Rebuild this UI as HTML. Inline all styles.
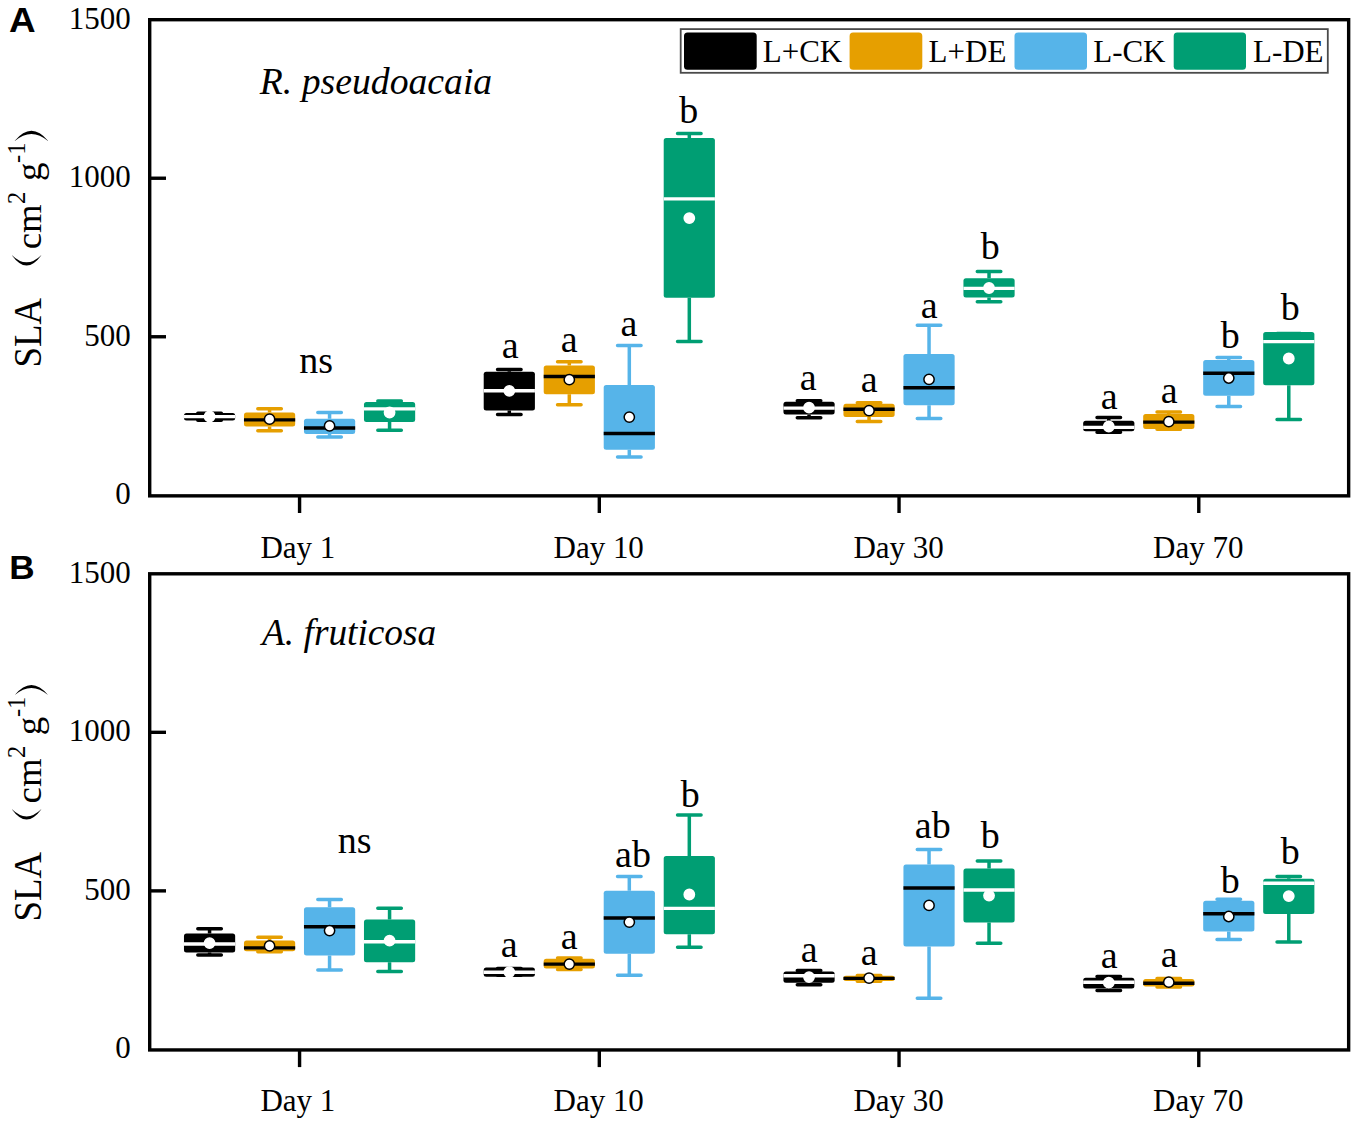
<!DOCTYPE html>
<html><head><meta charset="utf-8"><style>
html,body{margin:0;padding:0;background:#fff;}
svg{display:block;}
text{font-family:"Liberation Serif",serif;fill:#000;}
.tk{font-size:31px;}
.sig{font-size:38px;}
.ti{font-size:37.7px;font-style:italic;}
.yt{font-size:36.8px;}
.ys{font-size:24.5px;}
.pl{font-family:"Liberation Sans",sans-serif;font-weight:bold;font-size:34.5px;}
</style></head><body>
<svg width="1358" height="1125" viewBox="0 0 1358 1125">
<rect width="1358" height="1125" fill="#fff"/>
<text transform="translate(8.93 32) scale(1.07 1.04)" class="pl">A</text>
<text transform="translate(9.3 579.3) scale(1.02 0.98)" class="pl">B</text>
<path d="M209.57 413.2V413M209.57 420.4V420.2" stroke="#000000" stroke-width="3.5"/><path d="M197.82 413.2H221.32M197.82 420.2H221.32" stroke="#000000" stroke-width="3.5" stroke-linecap="round"/><rect x="183.97" y="413" width="51.2" height="7.4" rx="2.5" fill="#000000"/><path d="M183.97 416.6H235.17" stroke="#ffffff" stroke-width="3.4"/><circle cx="209.57" cy="416.5" r="5.15" fill="#fff" stroke="#ffffff" stroke-width="1.5"/>
<path d="M269.57 408.7V412.5M269.57 426.4V430.7" stroke="#E69F00" stroke-width="3.5"/><path d="M257.82 408.7H281.32M257.82 430.7H281.32" stroke="#E69F00" stroke-width="3.5" stroke-linecap="round"/><rect x="243.97" y="412.5" width="51.2" height="13.9" rx="2.5" fill="#E69F00"/><path d="M243.97 419.9H295.17" stroke="#000000" stroke-width="3.4"/><circle cx="269.57" cy="419.2" r="5.15" fill="#fff" stroke="#000000" stroke-width="1.5"/>
<path d="M329.57 412.6V418.7M329.57 434V436.9" stroke="#56B4E9" stroke-width="3.5"/><path d="M317.82 412.6H341.32M317.82 436.9H341.32" stroke="#56B4E9" stroke-width="3.5" stroke-linecap="round"/><rect x="303.97" y="418.7" width="51.2" height="15.3" rx="2.5" fill="#56B4E9"/><path d="M303.97 428H355.17" stroke="#000000" stroke-width="3.4"/><circle cx="329.57" cy="425.9" r="5.15" fill="#fff" stroke="#000000" stroke-width="1.5"/>
<path d="M389.57 401V402M389.57 422.1V430.2" stroke="#009E73" stroke-width="3.5"/><path d="M377.82 401H401.32M377.82 430.2H401.32" stroke="#009E73" stroke-width="3.5" stroke-linecap="round"/><rect x="363.97" y="402" width="51.2" height="20.1" rx="2.5" fill="#009E73"/><path d="M363.97 408.9H415.17" stroke="#ffffff" stroke-width="3.4"/><circle cx="389.57" cy="412.5" r="5.15" fill="#fff" stroke="#ffffff" stroke-width="1.5"/>
<path d="M509.31 369.4V371.7M509.31 410.4V414.4" stroke="#000000" stroke-width="3.5"/><path d="M497.56 369.4H521.06M497.56 414.4H521.06" stroke="#000000" stroke-width="3.5" stroke-linecap="round"/><rect x="483.71" y="371.7" width="51.2" height="38.7" rx="2.5" fill="#000000"/><path d="M483.71 390.8H534.91" stroke="#ffffff" stroke-width="3.4"/><circle cx="509.31" cy="390.8" r="5.15" fill="#fff" stroke="#ffffff" stroke-width="1.5"/>
<path d="M569.31 361.7V365.6M569.31 394.3V404.8" stroke="#E69F00" stroke-width="3.5"/><path d="M557.56 361.7H581.06M557.56 404.8H581.06" stroke="#E69F00" stroke-width="3.5" stroke-linecap="round"/><rect x="543.71" y="365.6" width="51.2" height="28.7" rx="2.5" fill="#E69F00"/><path d="M543.71 376.5H594.91" stroke="#000000" stroke-width="3.4"/><circle cx="569.31" cy="379.7" r="5.15" fill="#fff" stroke="#000000" stroke-width="1.5"/>
<path d="M629.31 345.5V385.1M629.31 449.8V456.9" stroke="#56B4E9" stroke-width="3.5"/><path d="M617.56 345.5H641.06M617.56 456.9H641.06" stroke="#56B4E9" stroke-width="3.5" stroke-linecap="round"/><rect x="603.71" y="385.1" width="51.2" height="64.7" rx="2.5" fill="#56B4E9"/><path d="M603.71 433.5H654.91" stroke="#000000" stroke-width="3.4"/><circle cx="629.31" cy="417.1" r="5.15" fill="#fff" stroke="#000000" stroke-width="1.5"/>
<path d="M689.31 133.5V138M689.31 297.7V341.5" stroke="#009E73" stroke-width="3.5"/><path d="M677.56 133.5H701.06M677.56 341.5H701.06" stroke="#009E73" stroke-width="3.5" stroke-linecap="round"/><rect x="663.71" y="138" width="51.2" height="159.7" rx="2.5" fill="#009E73"/><path d="M663.71 198.9H714.91" stroke="#ffffff" stroke-width="3.4"/><circle cx="689.31" cy="218.1" r="5.15" fill="#fff" stroke="#ffffff" stroke-width="1.5"/>
<path d="M809.04 400.8V401.8M809.04 414.5V417.8" stroke="#000000" stroke-width="3.5"/><path d="M797.29 400.8H820.79M797.29 417.8H820.79" stroke="#000000" stroke-width="3.5" stroke-linecap="round"/><rect x="783.44" y="401.8" width="51.2" height="12.7" rx="2.5" fill="#000000"/><path d="M783.44 408.1H834.64" stroke="#ffffff" stroke-width="3.4"/><circle cx="809.04" cy="407.7" r="5.15" fill="#fff" stroke="#ffffff" stroke-width="1.5"/>
<path d="M869.04 402.8V403.8M869.04 417.1V421.4" stroke="#E69F00" stroke-width="3.5"/><path d="M857.29 402.8H880.79M857.29 421.4H880.79" stroke="#E69F00" stroke-width="3.5" stroke-linecap="round"/><rect x="843.44" y="403.8" width="51.2" height="13.3" rx="2.5" fill="#E69F00"/><path d="M843.44 409.2H894.64" stroke="#000000" stroke-width="3.4"/><circle cx="869.04" cy="410.6" r="5.15" fill="#fff" stroke="#000000" stroke-width="1.5"/>
<path d="M929.04 325.2V353.9M929.04 405.3V418.4" stroke="#56B4E9" stroke-width="3.5"/><path d="M917.29 325.2H940.79M917.29 418.4H940.79" stroke="#56B4E9" stroke-width="3.5" stroke-linecap="round"/><rect x="903.44" y="353.9" width="51.2" height="51.4" rx="2.5" fill="#56B4E9"/><path d="M903.44 387.7H954.64" stroke="#000000" stroke-width="3.4"/><circle cx="929.04" cy="379.3" r="5.15" fill="#fff" stroke="#000000" stroke-width="1.5"/>
<path d="M989.04 271.4V278.3M989.04 297.6V301.7" stroke="#009E73" stroke-width="3.5"/><path d="M977.29 271.4H1000.79M977.29 301.7H1000.79" stroke="#009E73" stroke-width="3.5" stroke-linecap="round"/><rect x="963.44" y="278.3" width="51.2" height="19.3" rx="2.5" fill="#009E73"/><path d="M963.44 288.4H1014.64" stroke="#ffffff" stroke-width="3.4"/><circle cx="989.04" cy="288" r="5.15" fill="#fff" stroke="#ffffff" stroke-width="1.5"/>
<path d="M1108.78 417.5V420.7M1108.78 431.3V432.2" stroke="#000000" stroke-width="3.5"/><path d="M1097.03 417.5H1120.53M1097.03 432.2H1120.53" stroke="#000000" stroke-width="3.5" stroke-linecap="round"/><rect x="1083.18" y="420.7" width="51.2" height="10.6" rx="2.5" fill="#000000"/><path d="M1083.18 427.4H1134.38" stroke="#ffffff" stroke-width="3.4"/><circle cx="1108.78" cy="426.5" r="5.15" fill="#fff" stroke="#ffffff" stroke-width="1.5"/>
<path d="M1168.78 412.1V414M1168.78 429V429.3" stroke="#E69F00" stroke-width="3.5"/><path d="M1157.03 412.1H1180.53M1157.03 429.3H1180.53" stroke="#E69F00" stroke-width="3.5" stroke-linecap="round"/><rect x="1143.18" y="414" width="51.2" height="15" rx="2.5" fill="#E69F00"/><path d="M1143.18 422.1H1194.38" stroke="#000000" stroke-width="3.4"/><circle cx="1168.78" cy="421.7" r="5.15" fill="#fff" stroke="#000000" stroke-width="1.5"/>
<path d="M1228.78 357.5V360M1228.78 395.8V406.4" stroke="#56B4E9" stroke-width="3.5"/><path d="M1217.03 357.5H1240.53M1217.03 406.4H1240.53" stroke="#56B4E9" stroke-width="3.5" stroke-linecap="round"/><rect x="1203.18" y="360" width="51.2" height="35.8" rx="2.5" fill="#56B4E9"/><path d="M1203.18 373.2H1254.38" stroke="#000000" stroke-width="3.4"/><circle cx="1228.78" cy="378" r="5.15" fill="#fff" stroke="#000000" stroke-width="1.5"/>
<path d="M1288.78 333.6V332.1M1288.78 385.3V419.4" stroke="#009E73" stroke-width="3.5"/><path d="M1277.03 333.6H1300.53M1277.03 419.4H1300.53" stroke="#009E73" stroke-width="3.5" stroke-linecap="round"/><rect x="1263.18" y="332.1" width="51.2" height="53.2" rx="2.5" fill="#009E73"/><path d="M1263.18 341.6H1314.38" stroke="#ffffff" stroke-width="3.4"/><circle cx="1288.78" cy="358.5" r="5.15" fill="#fff" stroke="#ffffff" stroke-width="1.5"/>
<rect x="149.7" y="19.7" width="1198.95" height="476.15" fill="none" stroke="#000" stroke-width="3.4"/>
<path d="M149.7 336.76H166" stroke="#000" stroke-width="3.4"/>
<path d="M149.7 178.23H166" stroke="#000" stroke-width="3.4"/>
<text transform="translate(115.25 504.3) scale(1 1.03)" class="tk">0</text>
<text transform="translate(84.25 345.76) scale(1 1.03)" class="tk">500</text>
<text transform="translate(68.75 187.23) scale(1 1.03)" class="tk">1000</text>
<text transform="translate(68.75 28.69) scale(1 1.03)" class="tk">1500</text>
<path d="M299.57 495.85V513" stroke="#000" stroke-width="3.4"/>
<text transform="translate(260.45 557.5) scale(1 1.05)" class="tk">Day 1</text>
<path d="M599.31 495.85V513" stroke="#000" stroke-width="3.4"/>
<text transform="translate(553.52 557.5) scale(1 1.05)" class="tk">Day 10</text>
<path d="M899.04 495.85V513" stroke="#000" stroke-width="3.4"/>
<text transform="translate(853.38 557.5) scale(1 1.05)" class="tk">Day 30</text>
<path d="M1198.78 495.85V513" stroke="#000" stroke-width="3.4"/>
<text transform="translate(1153.08 557.5) scale(1 1.05)" class="tk">Day 70</text>
<text x="259.85" y="94" class="ti">R. pseudoacaia</text>
<text x="299.23" y="372.9" class="sig">ns</text>
<text x="501.85" y="357.7" class="sig">a</text>
<text x="560.75" y="351.6" class="sig">a</text>
<text x="620.45" y="336.3" class="sig">a</text>
<text x="679.15" y="123.1" class="sig">b</text>
<text x="799.85" y="390.1" class="sig">a</text>
<text x="860.75" y="391.7" class="sig">a</text>
<text x="920.75" y="317.8" class="sig">a</text>
<text x="980.75" y="259.1" class="sig">b</text>
<text x="1100.75" y="409.2" class="sig">a</text>
<text x="1160.75" y="402.5" class="sig">a</text>
<text x="1220.75" y="348" class="sig">b</text>
<text x="1280.75" y="320.2" class="sig">b</text>
<text transform="translate(40.8 367.4) rotate(-90) scale(1 1.06)" class="yt">SLA</text><text transform="translate(40.8 249.3) rotate(-90)" class="yt">cm</text><text transform="translate(25 204) rotate(-90)" class="ys">2</text><text transform="translate(40.8 181.1) rotate(-90)" class="yt">g</text><text transform="translate(25 163) rotate(-90)" class="ys">-1</text><path d="M12 255.4Q26.6 275.4 41.2 255.4L41.2 255.2Q26.6 269.4 12 255.2Z" fill="#000"/><path d="M14.8 140.8Q31.4 120.8 48 140.8L48 141Q31.4 126.8 14.8 141Z" fill="#000"/>
<path d="M209.57 928.7V933.5M209.57 952.6V954.9" stroke="#000000" stroke-width="3.5"/><path d="M197.82 928.7H221.32M197.82 954.9H221.32" stroke="#000000" stroke-width="3.5" stroke-linecap="round"/><rect x="183.97" y="933.5" width="51.2" height="19.1" rx="2.5" fill="#000000"/><path d="M183.97 944H235.17" stroke="#ffffff" stroke-width="3.4"/><circle cx="209.57" cy="943.1" r="5.15" fill="#fff" stroke="#ffffff" stroke-width="1.5"/>
<path d="M269.57 937.3V940.6M269.57 951.3V951.8" stroke="#E69F00" stroke-width="3.5"/><path d="M257.82 937.3H281.32M257.82 951.8H281.32" stroke="#E69F00" stroke-width="3.5" stroke-linecap="round"/><rect x="243.97" y="940.6" width="51.2" height="10.7" rx="2.5" fill="#E69F00"/><path d="M243.97 947.9H295.17" stroke="#000000" stroke-width="3.4"/><circle cx="269.57" cy="945.9" r="5.15" fill="#fff" stroke="#000000" stroke-width="1.5"/>
<path d="M329.57 899.6V907.3M329.57 955.5V969.9" stroke="#56B4E9" stroke-width="3.5"/><path d="M317.82 899.6H341.32M317.82 969.9H341.32" stroke="#56B4E9" stroke-width="3.5" stroke-linecap="round"/><rect x="303.97" y="907.3" width="51.2" height="48.2" rx="2.5" fill="#56B4E9"/><path d="M303.97 926.8H355.17" stroke="#000000" stroke-width="3.4"/><circle cx="329.57" cy="930.6" r="5.15" fill="#fff" stroke="#000000" stroke-width="1.5"/>
<path d="M389.57 908.2V919.5M389.57 962.2V971.4" stroke="#009E73" stroke-width="3.5"/><path d="M377.82 908.2H401.32M377.82 971.4H401.32" stroke="#009E73" stroke-width="3.5" stroke-linecap="round"/><rect x="363.97" y="919.5" width="51.2" height="42.7" rx="2.5" fill="#009E73"/><path d="M363.97 941.7H415.17" stroke="#ffffff" stroke-width="3.4"/><circle cx="389.57" cy="940.6" r="5.15" fill="#fff" stroke="#ffffff" stroke-width="1.5"/>
<path d="M509.31 968.4V967.6M509.31 976.7V975.3" stroke="#000000" stroke-width="3.5"/><path d="M497.56 968.4H521.06M497.56 975.3H521.06" stroke="#000000" stroke-width="3.5" stroke-linecap="round"/><rect x="483.71" y="967.6" width="51.2" height="9.1" rx="2.5" fill="#000000"/><path d="M483.71 972.2H534.91" stroke="#ffffff" stroke-width="3.4"/><circle cx="509.31" cy="972.1" r="5.15" fill="#fff" stroke="#ffffff" stroke-width="1.5"/>
<path d="M569.31 958V958.7M569.31 968.4V969.4" stroke="#E69F00" stroke-width="3.5"/><path d="M557.56 958H581.06M557.56 969.4H581.06" stroke="#E69F00" stroke-width="3.5" stroke-linecap="round"/><rect x="543.71" y="958.7" width="51.2" height="9.7" rx="2.5" fill="#E69F00"/><path d="M543.71 964.1H594.91" stroke="#000000" stroke-width="3.4"/><circle cx="569.31" cy="964.1" r="5.15" fill="#fff" stroke="#000000" stroke-width="1.5"/>
<path d="M629.31 876.5V890.8M629.31 953.8V975.3" stroke="#56B4E9" stroke-width="3.5"/><path d="M617.56 876.5H641.06M617.56 975.3H641.06" stroke="#56B4E9" stroke-width="3.5" stroke-linecap="round"/><rect x="603.71" y="890.8" width="51.2" height="63" rx="2.5" fill="#56B4E9"/><path d="M603.71 918H654.91" stroke="#000000" stroke-width="3.4"/><circle cx="629.31" cy="922.1" r="5.15" fill="#fff" stroke="#000000" stroke-width="1.5"/>
<path d="M689.31 815V856M689.31 934.2V947.3" stroke="#009E73" stroke-width="3.5"/><path d="M677.56 815H701.06M677.56 947.3H701.06" stroke="#009E73" stroke-width="3.5" stroke-linecap="round"/><rect x="663.71" y="856" width="51.2" height="78.2" rx="2.5" fill="#009E73"/><path d="M663.71 908.4H714.91" stroke="#ffffff" stroke-width="3.4"/><circle cx="689.31" cy="894.5" r="5.15" fill="#fff" stroke="#ffffff" stroke-width="1.5"/>
<path d="M809.04 970.4V971.4M809.04 982.8V984.8" stroke="#000000" stroke-width="3.5"/><path d="M797.29 970.4H820.79M797.29 984.8H820.79" stroke="#000000" stroke-width="3.5" stroke-linecap="round"/><rect x="783.44" y="971.4" width="51.2" height="11.4" rx="2.5" fill="#000000"/><path d="M783.44 975.8H834.64" stroke="#ffffff" stroke-width="3.4"/><circle cx="809.04" cy="977.1" r="5.15" fill="#fff" stroke="#ffffff" stroke-width="1.5"/>
<path d="M869.04 975.5V975.8M869.04 981V981.3" stroke="#E69F00" stroke-width="3.5"/><path d="M857.29 975.5H880.79M857.29 981.3H880.79" stroke="#E69F00" stroke-width="3.5" stroke-linecap="round"/><rect x="843.44" y="975.8" width="51.2" height="5.2" rx="2.5" fill="#E69F00"/><path d="M843.44 978.4H894.64" stroke="#000000" stroke-width="3.4"/><circle cx="869.04" cy="978.1" r="5.15" fill="#fff" stroke="#000000" stroke-width="1.5"/>
<path d="M929.04 849.4V864.4M929.04 946.5V998.2" stroke="#56B4E9" stroke-width="3.5"/><path d="M917.29 849.4H940.79M917.29 998.2H940.79" stroke="#56B4E9" stroke-width="3.5" stroke-linecap="round"/><rect x="903.44" y="864.4" width="51.2" height="82.1" rx="2.5" fill="#56B4E9"/><path d="M903.44 888H954.64" stroke="#000000" stroke-width="3.4"/><circle cx="929.04" cy="905.4" r="5.15" fill="#fff" stroke="#000000" stroke-width="1.5"/>
<path d="M989.04 860.9V868.5M989.04 922.5V943.2" stroke="#009E73" stroke-width="3.5"/><path d="M977.29 860.9H1000.79M977.29 943.2H1000.79" stroke="#009E73" stroke-width="3.5" stroke-linecap="round"/><rect x="963.44" y="868.5" width="51.2" height="54" rx="2.5" fill="#009E73"/><path d="M963.44 890H1014.64" stroke="#ffffff" stroke-width="3.4"/><circle cx="989.04" cy="895.6" r="5.15" fill="#fff" stroke="#ffffff" stroke-width="1.5"/>
<path d="M1108.78 976.5V977.8M1108.78 988.4V990.6" stroke="#000000" stroke-width="3.5"/><path d="M1097.03 976.5H1120.53M1097.03 990.6H1120.53" stroke="#000000" stroke-width="3.5" stroke-linecap="round"/><rect x="1083.18" y="977.8" width="51.2" height="10.6" rx="2.5" fill="#000000"/><path d="M1083.18 982.2H1134.38" stroke="#ffffff" stroke-width="3.4"/><circle cx="1108.78" cy="982.7" r="5.15" fill="#fff" stroke="#ffffff" stroke-width="1.5"/>
<path d="M1168.78 978.5V979M1168.78 986.6V987" stroke="#E69F00" stroke-width="3.5"/><path d="M1157.03 978.5H1180.53M1157.03 987H1180.53" stroke="#E69F00" stroke-width="3.5" stroke-linecap="round"/><rect x="1143.18" y="979" width="51.2" height="7.6" rx="2.5" fill="#E69F00"/><path d="M1143.18 983.2H1194.38" stroke="#000000" stroke-width="3.4"/><circle cx="1168.78" cy="982.2" r="5.15" fill="#fff" stroke="#000000" stroke-width="1.5"/>
<path d="M1228.78 899.3V900.8M1228.78 931.5V939.5" stroke="#56B4E9" stroke-width="3.5"/><path d="M1217.03 899.3H1240.53M1217.03 939.5H1240.53" stroke="#56B4E9" stroke-width="3.5" stroke-linecap="round"/><rect x="1203.18" y="900.8" width="51.2" height="30.7" rx="2.5" fill="#56B4E9"/><path d="M1203.18 913.7H1254.38" stroke="#000000" stroke-width="3.4"/><circle cx="1228.78" cy="916.5" r="5.15" fill="#fff" stroke="#000000" stroke-width="1.5"/>
<path d="M1288.78 876.5V878.8M1288.78 913.9V942" stroke="#009E73" stroke-width="3.5"/><path d="M1277.03 876.5H1300.53M1277.03 942H1300.53" stroke="#009E73" stroke-width="3.5" stroke-linecap="round"/><rect x="1263.18" y="878.8" width="51.2" height="35.1" rx="2.5" fill="#009E73"/><path d="M1263.18 883.2H1314.38" stroke="#ffffff" stroke-width="3.4"/><circle cx="1288.78" cy="896.1" r="5.15" fill="#fff" stroke="#ffffff" stroke-width="1.5"/>
<rect x="149.7" y="573.8" width="1198.95" height="476.15" fill="none" stroke="#000" stroke-width="3.4"/>
<path d="M149.7 890.87H166" stroke="#000" stroke-width="3.4"/>
<path d="M149.7 732.33H166" stroke="#000" stroke-width="3.4"/>
<text transform="translate(115.25 1058.4) scale(1 1.03)" class="tk">0</text>
<text transform="translate(84.25 899.87) scale(1 1.03)" class="tk">500</text>
<text transform="translate(68.75 741.33) scale(1 1.03)" class="tk">1000</text>
<text transform="translate(68.75 582.8) scale(1 1.03)" class="tk">1500</text>
<path d="M299.57 1049.95V1067.1" stroke="#000" stroke-width="3.4"/>
<text transform="translate(260.45 1111.2) scale(1 1.05)" class="tk">Day 1</text>
<path d="M599.31 1049.95V1067.1" stroke="#000" stroke-width="3.4"/>
<text transform="translate(553.52 1111.2) scale(1 1.05)" class="tk">Day 10</text>
<path d="M899.04 1049.95V1067.1" stroke="#000" stroke-width="3.4"/>
<text transform="translate(853.38 1111.2) scale(1 1.05)" class="tk">Day 30</text>
<path d="M1198.78 1049.95V1067.1" stroke="#000" stroke-width="3.4"/>
<text transform="translate(1153.08 1111.2) scale(1 1.05)" class="tk">Day 70</text>
<text transform="translate(262.08 645) scale(0.99 1.0)" class="ti">A. fruticosa</text>
<text x="337.68" y="853.1" class="sig">ns</text>
<text x="500.85" y="956.7" class="sig">a</text>
<text x="560.75" y="948.9" class="sig">a</text>
<text x="615.12" y="867.2" class="sig">ab</text>
<text x="680.75" y="806.8" class="sig">b</text>
<text x="800.75" y="961.8" class="sig">a</text>
<text x="860.75" y="964.7" class="sig">a</text>
<text x="914.83" y="837.7" class="sig">ab</text>
<text x="980.75" y="847.9" class="sig">b</text>
<text x="1100.75" y="967.9" class="sig">a</text>
<text x="1160.75" y="966.9" class="sig">a</text>
<text x="1220.75" y="893.2" class="sig">b</text>
<text x="1280.75" y="863.5" class="sig">b</text>
<text transform="translate(40.8 921.5) rotate(-90) scale(1 1.06)" class="yt">SLA</text><text transform="translate(40.8 803.4) rotate(-90)" class="yt">cm</text><text transform="translate(25 758.1) rotate(-90)" class="ys">2</text><text transform="translate(40.8 735.2) rotate(-90)" class="yt">g</text><text transform="translate(25 717.1) rotate(-90)" class="ys">-1</text><path d="M12 809.5Q26.6 829.5 41.2 809.5L41.2 809.3Q26.6 823.5 12 809.3Z" fill="#000"/><path d="M14.8 694.9Q31.4 674.9 48 694.9L48 695.1Q31.4 680.9 14.8 695.1Z" fill="#000"/>
<rect x="680.7" y="29.1" width="647.1" height="43.7" fill="#fff" stroke="#4a4a4a" stroke-width="1.8"/><rect x="684" y="32.5" width="72.7" height="37.2" rx="3.5" fill="#000"/><rect x="849.6" y="32.5" width="72.7" height="37.2" rx="3.5" fill="#E69F00"/><rect x="1014.5" y="32.5" width="72.5" height="37.2" rx="3.5" fill="#56B4E9"/><rect x="1173.7" y="32.5" width="72.3" height="37.2" rx="3.5" fill="#009E73"/><text transform="translate(762.8 61.6) scale(1 1.03)" class="tk">L+CK</text><text transform="translate(928.6 61.6) scale(1 1.03)" class="tk">L+DE</text><text transform="translate(1093.2 61.6) scale(1 1.03)" class="tk">L-CK</text><text transform="translate(1253 61.6) scale(1 1.03)" class="tk">L-DE</text>
</svg>
</body></html>
